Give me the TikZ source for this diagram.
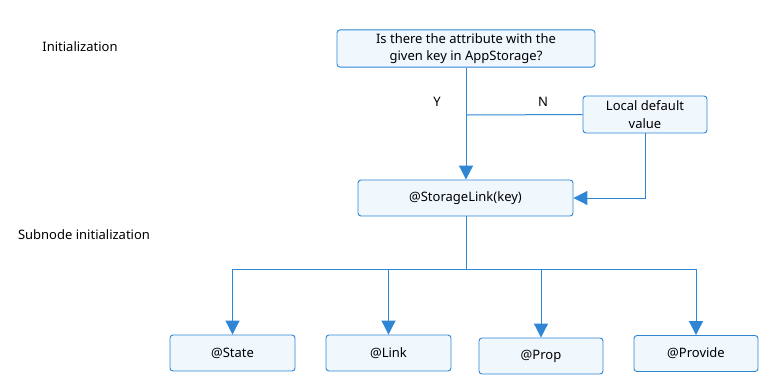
\documentclass[tikz,border=0pt]{standalone}
\usepackage{fontspec}
\setmainfont{Noto Sans}
\usepackage{xcolor}
\usetikzlibrary{arrows.meta,positioning,calc}
\definecolor{asline}{HTML}{2F86D4}
\definecolor{asfill}{HTML}{F0F8FE}
\tikzset{
  asbox/.style={
    rectangle, rounded corners=3pt, draw=asline, fill=asfill, line width=0.9pt,
    minimum height=36pt, align=center, font=\fontsize{13}{17.5}\selectfont
  },
  asedge/.style={-{Triangle[width=14pt,length=14pt]},draw=asline,line width=1pt},
  asline/.style={draw=asline,line width=1pt},
  aslabel/.style={font=\fontsize{13}{15}\selectfont,inner sep=1pt}
}
\begin{document}
\begin{tikzpicture}[x=1pt,y=-1pt]
  \useasboundingbox (0,0) rectangle (784,384);
  \node[asbox,minimum width=258pt,minimum height=35pt] (query) at (466,48.5) {Is there the attribute with the\\given key in AppStorage?};
  \node[asbox,minimum width=124pt,minimum height=37pt] (default) at (645,114.5) {Local default\\value};
  \node[asbox,minimum width=215pt] (link) at (465.5,198) {@StorageLink(key)};
  \node[asbox,minimum width=125pt] (state) at (232.5,353) {@State};
  \node[asbox,minimum width=125pt] (slink) at (388.5,353) {@Link};
  \node[asbox,minimum width=124pt] (prop) at (541,356) {@Prop};
  \node[asbox,minimum width=124pt] (provide) at (696,353.5) {@Provide};
  \node[aslabel] (init) at (80,47) {Initialization};
  \node[aslabel] (subinit) at (84,235) {Subnode initialization};
  \node[aslabel] (yes) at (437,102) {Y};
  \node[aslabel] (no) at (543,102) {N};
  \coordinate (fork) at (466,269);
  % initialization
  \draw[asedge] (query.south -| 466,0) -- (link.north -| 466,0);
  \draw[asline] (466,115) -- (default.west);
  \draw[asedge] (default.south) |- (link.east);
  % subnodes
  \draw[asline] (link.south -| fork) -- (fork);
  \draw[asline] (state.north |- fork) -- (provide.north |- fork);
  \foreach \n in {state,slink,prop,provide}
    \draw[asedge] (\n.north |- fork) -- (\n.north);
\end{tikzpicture}
\end{document}
